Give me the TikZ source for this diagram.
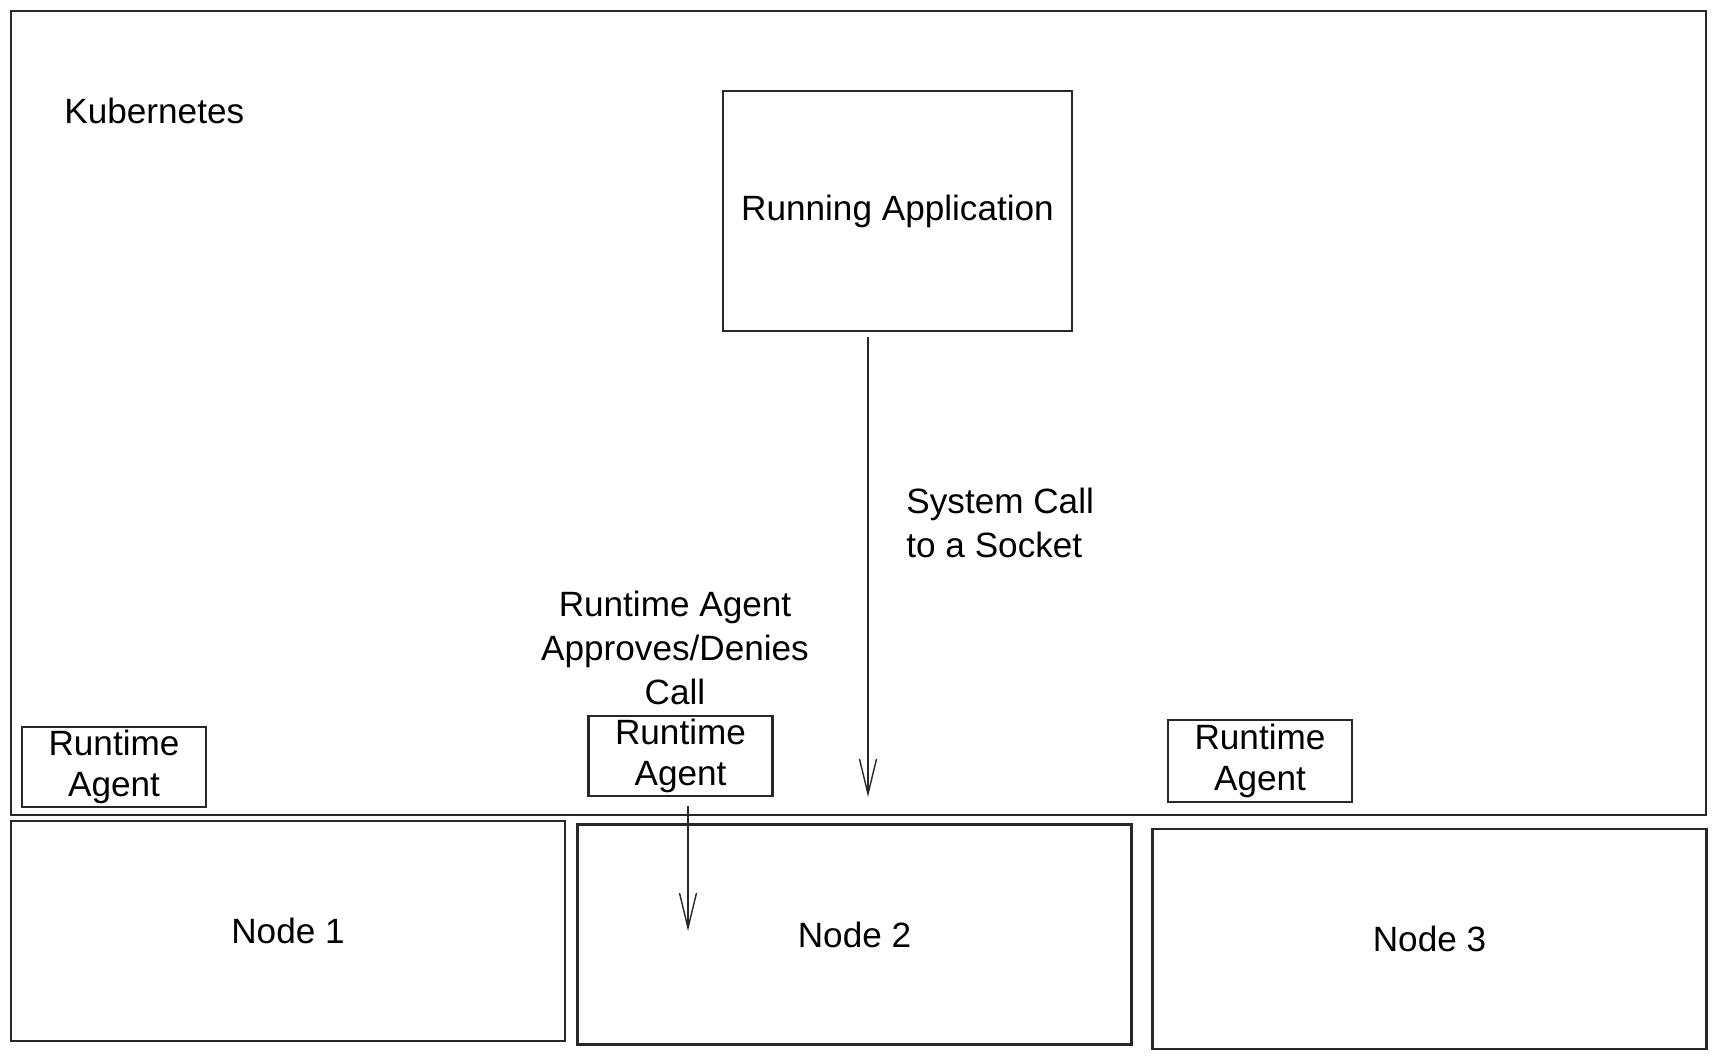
\documentclass[tikz,border=0pt]{standalone}
\usepackage{fontspec}
\setmainfont{Liberation Sans}
\usepackage{tikz}
\usetikzlibrary{
  arrows.meta,
  positioning
}
\definecolor{sketchgray}{RGB}{40,40,40}

\begin{document}
\begin{tikzpicture}[font=\fontsize{10}{12.5}\selectfont,
  box/.style={draw=sketchgray, line width=0.7pt, inner sep=1pt},
  agentbox/.style={box, minimum width=1.84cm, minimum height=0.80cm, align=center, font=\fontsize{10}{11.5}\selectfont},
  workerbox/.style={box, minimum width=5.54cm, minimum height=2.20cm},
  callarrow/.style={draw=sketchgray, line width=0.4pt, -{Straight Barb[length=0.35cm, width=0.17cm]}}
]
  \useasboundingbox (0,0) rectangle (17.17,-10.59);

  % Cluster frame
  \node[box, minimum width=16.95cm, minimum height=8.04cm] (kube) at (8.585,-4.13) {};
  \node[anchor=west] (kubelabel) at (0.52,-1.11) {Kubernetes};

  % Application
  \node[box, minimum width=3.49cm, minimum height=2.40cm] (app) at (8.975,-2.11) {Running Application};

  % Runtime agents
  \node[agentbox] (agent1) at (1.14,-7.67) {Runtime\\Agent};
  \node[agentbox] (agent2) at (6.805,-7.56) {Runtime\\Agent};
  \node[agentbox, minimum height=0.82cm] (agent3) at (12.60,-7.61) {Runtime\\Agent};

  % Worker nodes
  \node[workerbox] (node1) at (2.88,-9.31) {Node 1};
  \node[workerbox] (node2) at (8.545,-9.345) {Node 2};
  \node[workerbox] (node3) at (14.295,-9.39) {Node 3};

  % Labels
  \node[anchor=west, align=left] (syscall) at (8.94,-5.23) {System Call\\to a Socket};
  \node[align=center] (verdict) at (6.75,-6.48) {Runtime Agent\\Approves/Denies\\Call};

  % Arrows
  \coordinate (callend) at (8.68,-7.97);
  \coordinate (checkend) at (6.88,-9.31);
  \draw[callarrow, shorten <=0.5mm] (app.south -| callend) -- (callend);
  \draw[callarrow, shorten <=0.9mm] (agent2.south -| checkend) -- (checkend);
\end{tikzpicture}
\end{document}
